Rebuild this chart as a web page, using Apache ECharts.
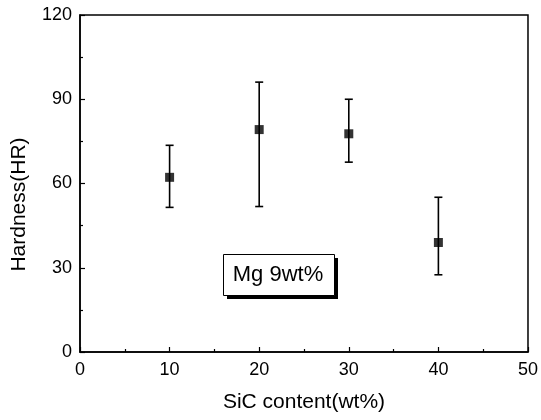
<!DOCTYPE html>
<html><head><meta charset="utf-8">
<script src="https://cdn.jsdelivr.net/npm/echarts@6/dist/echarts.min.js"></script>
<style>html,body{margin:0;padding:0;background:#fff}#c{width:541px;height:420px}</style>
</head><body><div id="c"></div>
<script>
var sicContent = [10, 20, 30, 40];
var hardness = [62.2, 79.2, 77.7, 39.0];
var errLow = [51.5, 51.8, 67.6, 27.5];
var errHigh = [73.6, 96.1, 90.0, 55.1];
var xTicks = [0, 10, 20, 30, 40, 50];
var yTicks = [0, 30, 60, 90, 120];
var annotation = 'Mg 9wt%';

var font = 'Liberation Sans, Arial, sans-serif';
var chart = echarts.init(document.getElementById('c'));
var errData = sicContent.map(function (x, i) { return [x, errLow[i], errHigh[i]]; });
var ptData = sicContent.map(function (x, i) { return [x, hardness[i]]; });

chart.setOption({
  animation: false,
  grid: { left: 80, right: 13, top: 15, bottom: 68, show: true, borderColor: '#000', borderWidth: 1.5 },
  xAxis: {
    type: 'value', min: xTicks[0], max: xTicks[xTicks.length - 1], interval: 10,
    name: 'SiC content(wt%)', nameLocation: 'middle', nameGap: 40,
    nameTextStyle: { fontFamily: font, fontSize: 21, color: '#000' },
    axisLine: { lineStyle: { color: '#000', width: 1.5 } },
    axisTick: { inside: true, length: 5, lineStyle: { color: '#000', width: 1.2 } },
    minorTick: { show: true, splitNumber: 2, length: 3, lineStyle: { color: '#000', width: 1.2 } },
    axisLabel: { fontFamily: font, fontSize: 18, color: '#000', margin: 9 },
    splitLine: { show: false }
  },
  yAxis: {
    type: 'value', min: yTicks[0], max: yTicks[yTicks.length - 1], interval: 30,
    name: 'Hardness(HR)', nameLocation: 'middle', nameGap: 50,
    nameTextStyle: { fontFamily: font, fontSize: 21, color: '#000', padding: [0, 42, 0, 0] },
    axisLine: { lineStyle: { color: '#000', width: 1.5 } },
    axisTick: { inside: true, length: 5, lineStyle: { color: '#000', width: 1.2 } },
    minorTick: { show: true, splitNumber: 2, length: 3, lineStyle: { color: '#000', width: 1.2 } },
    axisLabel: { fontFamily: font, fontSize: 18, color: '#000', margin: 8 },
    splitLine: { show: false }
  },
  series: [
    {
      type: 'custom',
      data: errData,
      renderItem: function (params, api) {
        var x = api.value(0);
        var lo = api.coord([x, api.value(1)]);
        var hi = api.coord([x, api.value(2)]);
        var w = 4;
        var st = { stroke: '#000', lineWidth: 1.6 };
        return {
          type: 'group',
          children: [
            { type: 'line', shape: { x1: lo[0], y1: lo[1], x2: hi[0], y2: hi[1] }, style: st },
            { type: 'line', shape: { x1: lo[0] - w, y1: lo[1], x2: lo[0] + w, y2: lo[1] }, style: st },
            { type: 'line', shape: { x1: hi[0] - w, y1: hi[1], x2: hi[0] + w, y2: hi[1] }, style: st }
          ]
        };
      },
      z: 2
    },
    {
      type: 'scatter',
      data: ptData,
      symbol: 'rect',
      symbolSize: 9,
      itemStyle: { color: '#000' },
      z: 3
    }
  ],
  graphic: [
    { type: 'rect', left: 227, top: 258, shape: { width: 111, height: 41 }, style: { fill: '#000' }, z: 10 },
    { type: 'rect', left: 223, top: 254, shape: { width: 111, height: 41 }, style: { fill: '#fff', stroke: '#000', lineWidth: 1 }, z: 11 },
    { type: 'text', x: 278, y: 275, style: { text: annotation, fontFamily: font, fontSize: 22, fill: '#000', align: 'center', verticalAlign: 'middle' }, z: 12 }
  ]
});
</script></body></html>
